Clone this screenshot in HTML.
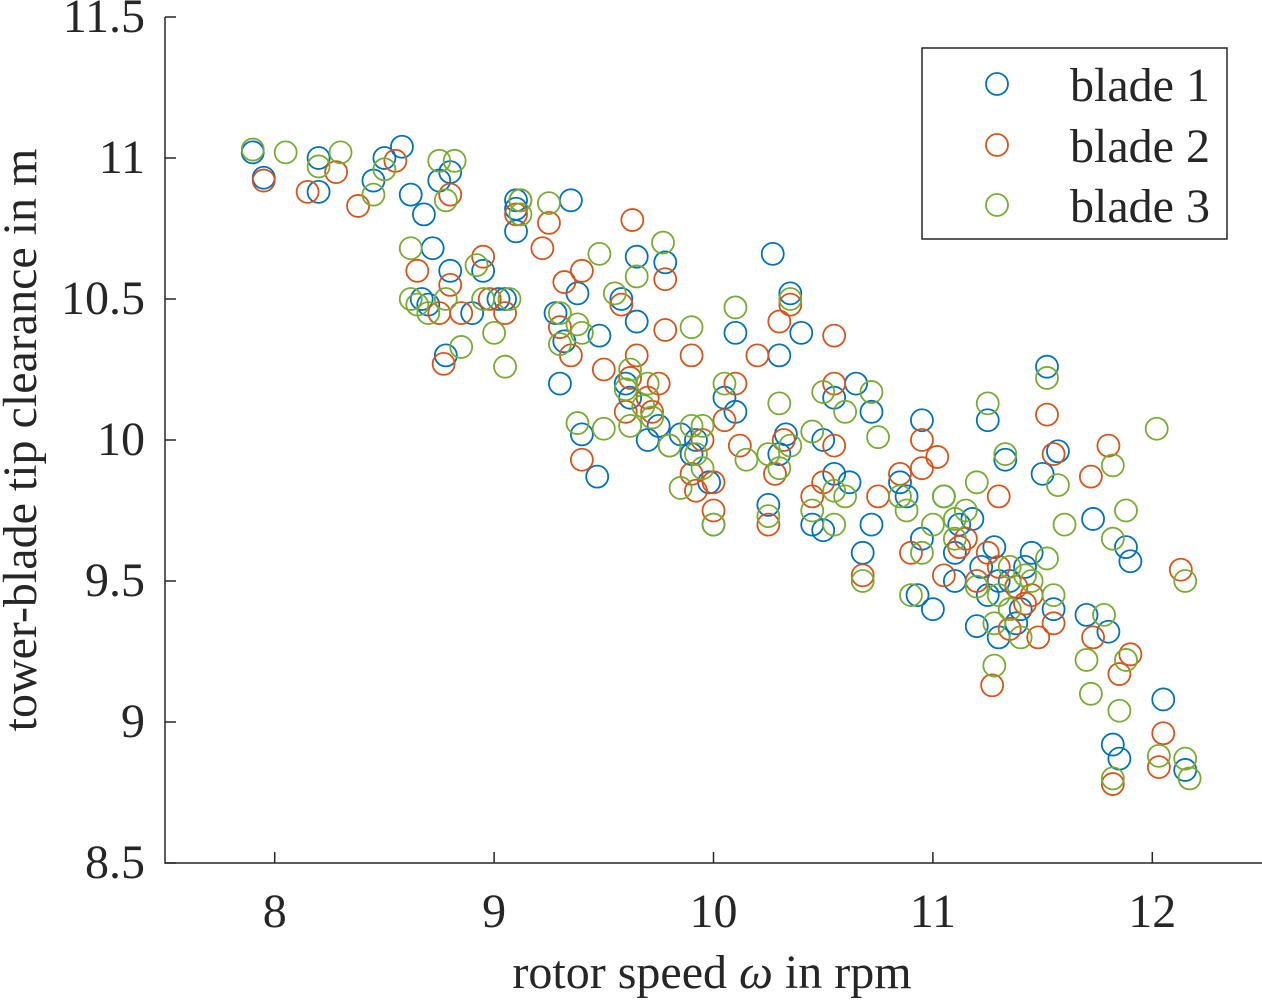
<!DOCTYPE html>
<html><head><meta charset="utf-8"><style>
html,body{margin:0;padding:0;background:#fff}
svg text{font-family:"Liberation Serif",serif;fill:#262626}
</style></head><body>
<svg id="chart" width="1262" height="999" xmlns="http://www.w3.org/2000/svg">
<g id="marks"></g>
<g id="axes"></g>
<g>
<rect x="922" y="48" width="305" height="191" fill="#fff" stroke="#262626" stroke-width="1.5"/>
<circle cx="997" cy="84" r="11" fill="none" stroke="#0072BD" stroke-width="1.8"/>
<text x="1070" y="101" font-size="48">blade 1</text>
<circle cx="997" cy="145" r="11" fill="none" stroke="#D95319" stroke-width="1.8"/>
<text x="1070" y="162" font-size="48">blade 2</text>
<circle cx="997" cy="205" r="11" fill="none" stroke="#77AC30" stroke-width="1.8"/>
<text x="1070" y="222" font-size="48">blade 3</text>
</g>
<text x="712" y="988" font-size="48" text-anchor="middle">rotor speed <tspan font-style="italic">ω</tspan> in rpm</text>
<text transform="translate(36,440) rotate(-90)" font-size="48" text-anchor="middle">tower-blade tip clearance in m</text>
</svg>
<script>
const xTicks=[8,9,10,11,12];
const yTicks=[8.5,9,9.5,10,10.5,11,11.5];
const yTickLabels=["8.5","9","9.5","10","10.5","11","11.5"];
const blade1=[[7.9,11.02],[7.95,10.93],[8.2,10.88],[8.2,11.0],[8.5,11.0],[8.58,11.04],[8.62,10.87],[8.68,10.8],[8.75,10.92],[8.8,10.95],[8.72,10.68],[8.67,10.5],[8.78,10.3],[8.8,10.6],[8.95,10.6],[9.05,10.5],[9.1,10.74],[9.1,10.85],[9.35,10.85],[9.38,10.52],[9.3,10.2],[9.4,10.02],[9.47,9.87],[9.48,10.37],[9.6,10.2],[9.65,10.65],[9.7,10.0],[9.78,10.63],[9.9,9.95],[9.98,9.85],[10.05,10.15],[10.1,10.38],[10.25,9.77],[10.27,10.66],[10.3,10.3],[10.35,10.52],[10.4,10.38],[10.45,9.7],[10.5,10.0],[10.55,9.88],[10.65,10.2],[10.68,9.6],[10.72,9.7],[10.72,10.1],[10.85,9.85],[10.95,10.07],[10.93,9.45],[11.0,9.4],[11.05,9.8],[11.1,9.6],[11.18,9.72],[11.2,9.34],[11.25,10.07],[11.3,9.5],[11.33,9.93],[11.4,9.4],[11.45,9.6],[11.5,9.88],[11.52,10.26],[11.55,9.4],[11.57,9.96],[11.7,9.38],[11.73,9.72],[11.8,9.32],[11.82,8.92],[11.85,8.87],[11.88,9.62],[11.9,9.57],[12.05,9.08],[12.15,8.83],[11.3,9.3],[11.1,9.5],[10.95,9.65],[9.85,10.02],[10.0,9.7],[8.45,10.92],[9.62,10.15],[9.65,10.42],[9.75,10.05],[9.58,10.5],[9.28,10.45],[9.32,10.35],[8.9,10.45],[8.7,10.48],[9.92,10.0],[10.3,9.95],[10.33,10.02],[10.55,10.15],[10.1,10.1],[11.25,9.45],[11.35,9.5],[11.42,9.55],[11.38,9.35],[11.22,9.55],[11.12,9.7],[10.88,9.8],[11.28,9.62],[9.1,10.82],[9.02,10.5],[10.5,9.68],[10.62,9.85]];
const blade2=[[7.95,10.92],[8.15,10.88],[8.28,10.95],[8.38,10.83],[8.55,10.99],[8.65,10.6],[8.77,10.27],[8.8,10.87],[8.85,10.45],[8.98,10.5],[9.12,10.85],[9.22,10.68],[9.32,10.56],[9.4,9.93],[9.4,10.6],[9.5,10.25],[9.58,10.48],[9.63,10.78],[9.65,10.3],[9.72,10.1],[9.78,10.57],[9.78,10.39],[9.8,9.98],[9.9,10.3],[9.95,10.0],[10.0,9.85],[10.05,10.07],[10.12,9.98],[10.2,10.3],[10.25,9.7],[10.3,10.42],[10.35,10.48],[10.45,9.8],[10.55,10.2],[10.55,10.37],[10.68,9.52],[10.75,9.8],[10.85,9.88],[10.95,9.9],[10.95,10.0],[11.02,9.94],[11.05,9.52],[11.15,9.65],[11.2,9.5],[11.27,9.13],[11.3,9.8],[11.35,9.33],[11.45,9.45],[11.48,9.3],[11.52,10.09],[11.55,9.95],[11.72,9.87],[11.73,9.3],[11.8,9.98],[11.82,8.78],[11.85,9.17],[11.9,9.24],[12.03,8.84],[12.05,8.96],[12.13,9.54],[9.25,10.77],[10.55,9.98],[8.95,10.65],[9.62,10.22],[9.7,10.15],[9.75,10.2],[9.6,10.1],[9.3,10.4],[9.35,10.3],[8.8,10.55],[8.75,10.45],[9.9,9.88],[9.92,9.82],[10.28,9.88],[10.32,10.0],[10.5,9.85],[10.1,10.2],[11.3,9.55],[11.38,9.48],[11.42,9.42],[11.25,9.6],[11.12,9.62],[10.9,9.6],[11.55,9.35],[9.1,10.8],[9.05,10.45],[10.0,9.75]];
const blade3=[[7.9,11.03],[8.05,11.02],[8.2,10.97],[8.3,11.02],[8.45,10.87],[8.5,10.96],[8.62,10.68],[8.65,10.48],[8.75,10.99],[8.78,10.85],[8.82,10.99],[8.85,10.33],[8.92,10.62],[9.0,10.38],[9.05,10.26],[9.07,10.5],[9.12,10.8],[9.25,10.84],[9.3,10.34],[9.38,10.41],[9.38,10.06],[9.48,10.66],[9.5,10.04],[9.55,10.52],[9.62,10.05],[9.65,10.58],[9.7,10.2],[9.77,10.7],[9.8,9.98],[9.9,10.4],[9.9,10.05],[9.95,9.9],[10.0,9.7],[10.05,10.2],[10.1,10.47],[10.15,9.93],[10.25,9.73],[10.3,10.13],[10.35,10.5],[10.45,10.03],[10.5,10.17],[10.55,9.7],[10.6,10.1],[10.68,9.5],[10.72,10.17],[10.75,10.01],[10.85,9.8],[10.9,9.45],[10.95,9.6],[11.0,9.7],[11.05,9.8],[11.15,9.75],[11.2,9.85],[11.25,10.13],[11.28,9.2],[11.33,9.95],[11.4,9.3],[11.45,9.5],[11.52,9.58],[11.52,10.22],[11.57,9.84],[11.6,9.7],[11.7,9.22],[11.72,9.1],[11.78,9.38],[11.82,9.91],[11.82,8.8],[11.85,9.04],[11.88,9.75],[11.88,9.22],[12.02,10.04],[12.03,8.88],[12.15,8.87],[12.15,9.5],[12.17,8.8],[11.35,9.55],[11.1,9.65],[10.6,9.8],[9.85,9.83],[10.3,9.9],[9.62,10.25],[9.68,10.12],[9.6,10.18],[9.72,10.08],[9.3,10.45],[9.4,10.38],[8.7,10.45],[8.78,10.5],[8.95,10.5],[9.95,10.05],[9.92,9.95],[10.25,9.95],[10.35,9.98],[10.45,9.75],[10.55,9.82],[11.3,9.45],[11.35,9.4],[11.42,9.52],[11.28,9.35],[11.2,9.48],[11.1,9.72],[10.88,9.75],[11.55,9.45],[11.82,9.65],[9.12,10.85],[8.62,10.5]];
const seriesNames=["blade-1","blade-2","blade-3"];
const seriesColors=["#0072BD","#D95319","#77AC30"];
const NS="http://www.w3.org/2000/svg";
const X0=165,X1=1262,Y0=863,Y1=17,xmin=7.5,xmax=12.5,ymin=8.5,ymax=11.5;
function sx(v){return X0+(v-xmin)/(xmax-xmin)*(X1-X0);}
function sy(v){return Y0-(v-ymin)/(ymax-ymin)*(Y0-Y1);}
function mk(t,a){const e=document.createElementNS(NS,t);for(const k in a)e.setAttribute(k,a[k]);return e;}
const axes=document.getElementById('axes');
const ax=mk('path',{d:`M${X0},${Y1}V${Y0}H${X1}`,fill:'none',stroke:'#262626','stroke-width':1.5});


axes.appendChild(ax);
xTicks.forEach(t=>{
 const x=sx(t);
 const l=mk('line',{x1:x,x2:x,y1:Y0,y2:Y0-11,stroke:'#262626','stroke-width':1.5});
 
 
 axes.appendChild(l);
 const tx=mk('text',{x:x,y:Y0+64,'font-size':48,'text-anchor':'middle'});
 
 
 tx.textContent=String(t);axes.appendChild(tx);
});
yTicks.forEach((t,i)=>{
 const y=sy(t);
 const l=mk('line',{x1:X0,x2:X0+11,y1:y,y2:y,stroke:'#262626','stroke-width':1.5});
 
 
 axes.appendChild(l);
 const tx=mk('text',{x:X0-20,y:y+15,'font-size':48,'text-anchor':'end'});
 
 
 tx.textContent=yTickLabels[i];axes.appendChild(tx);
});
const marks=document.getElementById('marks');
[blade1,blade2,blade3].forEach((s,i)=>{
 s.forEach(p=>{
  const c=mk('circle',{cx:sx(p[0]),cy:sy(p[1]),r:11,fill:'none',stroke:seriesColors[i],'stroke-width':1.8});
  
  
  marks.appendChild(c);
 });
});
</script>
</body></html>
